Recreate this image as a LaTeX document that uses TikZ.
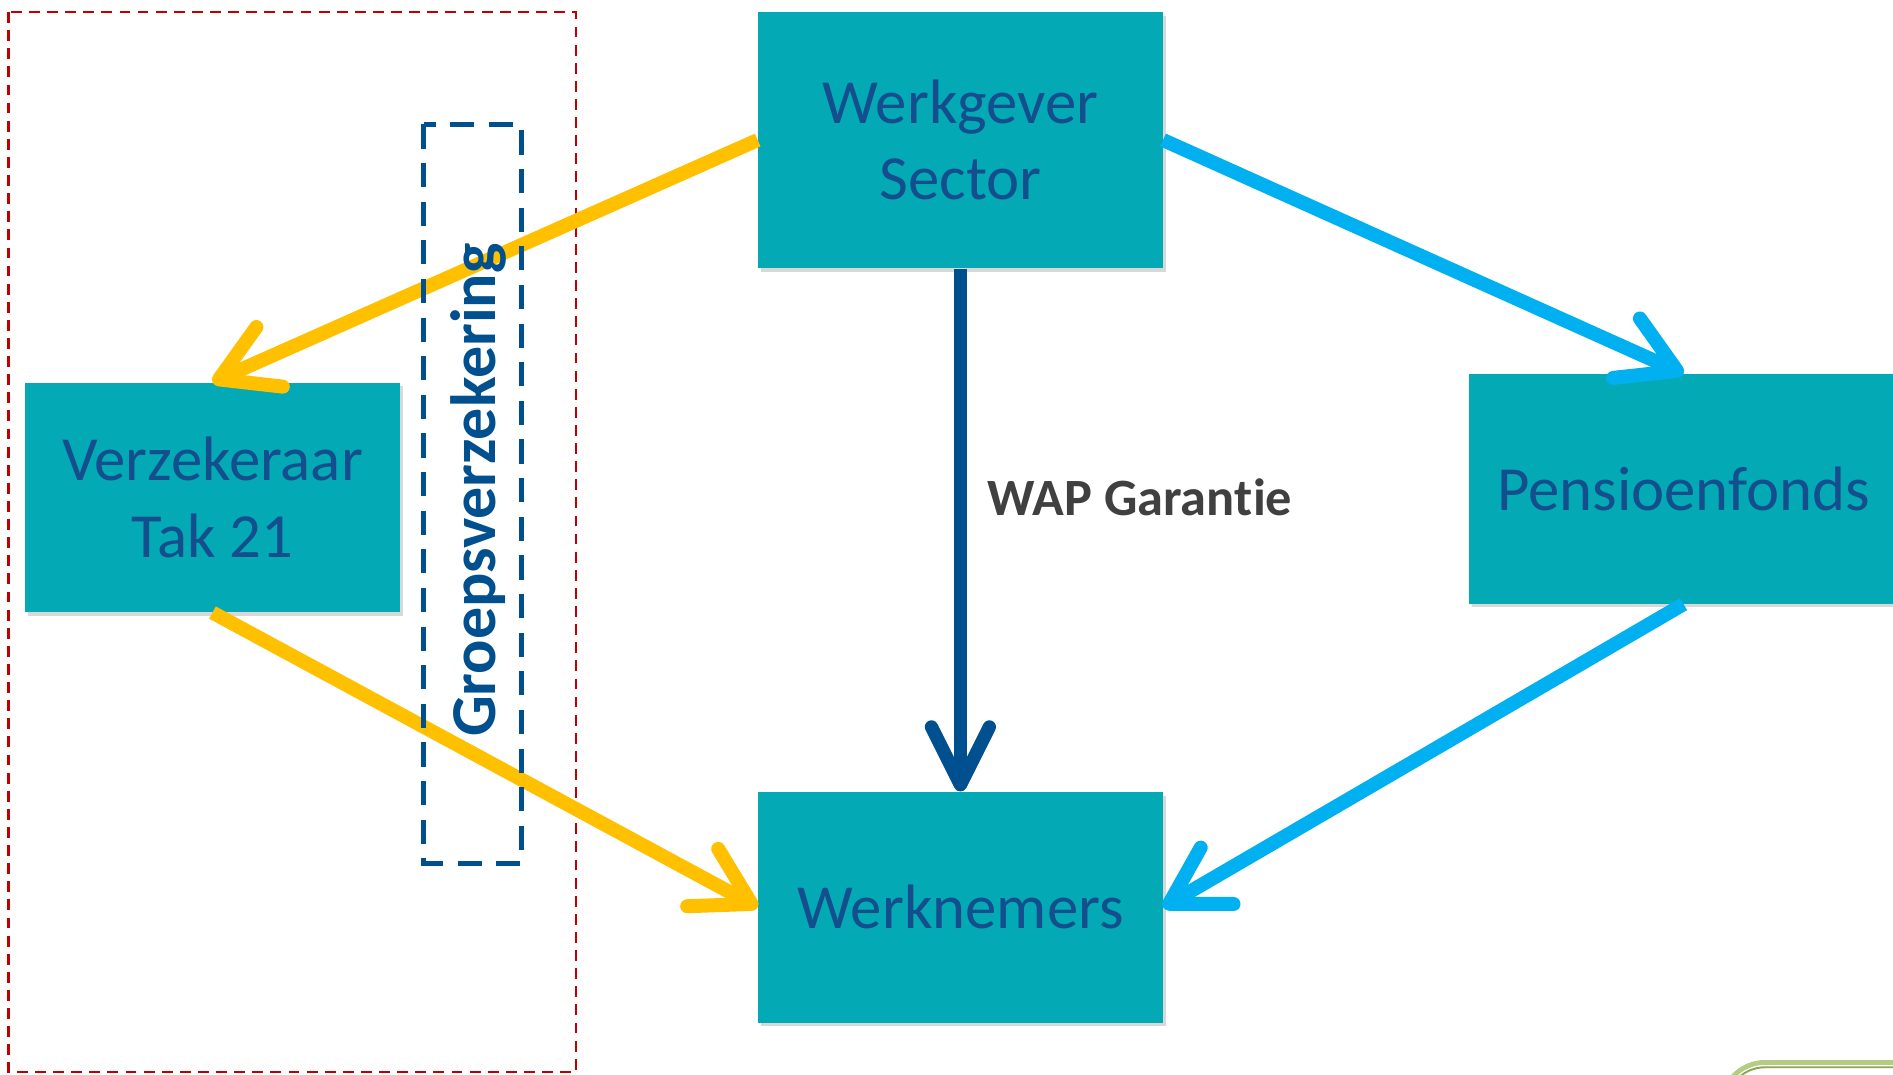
\documentclass[tikz,border=0pt]{standalone}
\usepackage{fontspec}
\setmainfont{Carlito}[Ligatures={NoCommon}]
\usetikzlibrary{arrows.meta,shadows}
\definecolor{boxteal}{HTML}{03A9B5}
\definecolor{boxtext}{HTML}{144E8D}
\definecolor{arrowyellow}{HTML}{FFC000}
\definecolor{arrowlight}{HTML}{00B0F0}
\definecolor{arrowdark}{HTML}{00508F}
\definecolor{reddash}{HTML}{C00000}
\definecolor{labelgray}{HTML}{404040}
\definecolor{greenedge}{HTML}{B5CC82}
\definecolor{greeninner}{HTML}{8DA654}
\begin{document}
\begin{tikzpicture}[x=0.5pt,y=-0.5pt,
  box/.style={fill=boxteal, text=boxtext, font=\fontsize{26pt}{31.5pt}\selectfont,
    align=center, inner sep=0pt,
    drop shadow={opacity=0.3, shadow xshift=1.2pt, shadow yshift=-1.5pt}},
  yarrow/.style={draw=arrowyellow, line width=5.8pt,
    -{Straight Barb[length=23pt,width=27pt,round]}},
  larrow/.style={draw=arrowlight, line width=5.8pt,
    -{Straight Barb[length=23pt,width=27pt,round]}},
  darrow/.style={draw=arrowdark, line width=5.5pt,
    -{Straight Barb[length=24pt,width=24pt,round]}},
  reddashed/.style={draw=reddash, line width=1pt, dash pattern=on 4.5pt off 3pt},
  bluedashed/.style={draw=arrowdark, line width=2pt, dash pattern=on 10pt off 6pt}
]
\clip (0,0) rectangle (1568,890);
\fill[white] (0,0) rectangle (1568,890);

% outer red dashed frame
\draw[reddashed] (7,10) rectangle (477,888);

% boxes
\node[box, minimum width=167.5pt, minimum height=106pt] (werkgever) at (795.5,116) {Werkgever\\Sector};
\node[box, minimum width=155pt, minimum height=95pt] (verz) at (176,412) {Verzekeraar\\Tak 21};
\node[box, minimum width=177.5pt, minimum height=95pt] (pens) at (1394.5,405) {Pensioenfonds};
\node[box, minimum width=167.5pt, minimum height=95.5pt] (werkn) at (795.5,751.5) {Werknemers};

% connectors
\draw[yarrow] (werkgever.west) -- (verz.north);
\draw[yarrow] (verz.south) -- (werkn.west);
\draw[larrow] (werkgever.east) -- (pens.north);
\draw[larrow] (pens.south) -- (werkn.east);
\draw[darrow] (werkgever.south) -- (werkn.north);

% inner blue dashed frame and its label
\draw[bluedashed] (351,103) rectangle (432,715);
\node[rotate=90, text=arrowdark, font=\fontsize{26.5pt}{30pt}\selectfont\bfseries] (groep) at (396,406) {Groepsverzekering};

% edge label
\node[anchor=west, text=labelgray, font=\fontsize{21.7pt}{26pt}\selectfont\bfseries] (wap) at (811,412) {WAP Garan\kern0pt tie};

% partial shape in the bottom-right corner
\draw[greenedge, line width=2pt, rounded corners=18pt] (1426,880) rectangle (1640,980);
\draw[greeninner, line width=0.8pt, rounded corners=16pt] (1430,884) rectangle (1636,976);
\end{tikzpicture}
\end{document}
